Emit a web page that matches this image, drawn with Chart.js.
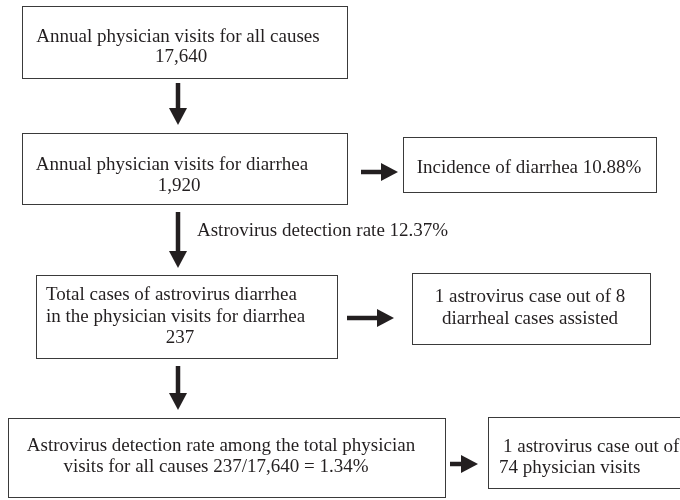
<!DOCTYPE html>
<html>
<head>
<meta charset="utf-8">
<script src="https://cdn.jsdelivr.net/npm/chart.js@4/dist/chart.umd.min.js"></script>
<style>
html,body{margin:0;padding:0;background:#fff;}
#c{display:block;}
</style>
</head>
<body>
<canvas id="c" width="680" height="500"></canvas>
<script>
// ---- data ----
const countLabels = ['Annual physician visits for all causes', 'Annual physician visits for diarrhea', 'Total cases of astrovirus diarrhea', 'in the physician visits for diarrhea'];
const counts = [17640, 1920, 237];
const rateLabels = ['Incidence of diarrhea', 'Astrovirus detection rate', 'Astrovirus detection rate among the total physician', 'visits for all causes'];
const rates = [10.88, 12.37, 1.34];
const oneOutOf = [8, 74];
const oneOutOfLabels = ['1 astrovirus case out of', 'diarrheal cases assisted', 'physician visits'];

const fmt = n => n.toLocaleString('en-US');
const pct = v => v.toFixed(2) + '%';

// ---- layout (chart units, x: 0-680, y: 0-500 top-down) ----
const boxes = [
  {x0:22, x1:347, y0:6, y1:78},
  {x0:22, x1:347, y0:133, y1:204},
  {x0:403, x1:656, y0:137, y1:192},
  {x0:36, x1:337, y0:275, y1:358},
  {x0:412, x1:650, y0:273, y1:344},
  {x0:8, x1:445, y0:418, y1:497},
  {x0:488, x1:690, y0:417, y1:488}
];
const texts = [
  {t: countLabels[0], x:178, y:37, a:'center'},
  {t: fmt(counts[0]), x:181, y:57, a:'center'},
  {t: countLabels[1], x:172, y:165, a:'center'},
  {t: fmt(counts[1]), x:179, y:186, a:'center'},
  {t: rateLabels[0] + ' ' + pct(rates[0]), x:529, y:168, a:'center'},
  {t: rateLabels[1] + ' ' + pct(rates[1]), x:197, y:231, a:'left'},
  {t: countLabels[2], x:46, y:295, a:'left'},
  {t: countLabels[3], x:46, y:317, a:'left'},
  {t: fmt(counts[2]), x:180, y:338, a:'center'},
  {t: oneOutOfLabels[0] + ' ' + oneOutOf[0], x:530, y:297, a:'center'},
  {t: oneOutOfLabels[1], x:530, y:319, a:'center'},
  {t: rateLabels[2], x:221, y:446, a:'center'},
  {t: rateLabels[3] + ' ' + counts[2] + '/' + fmt(counts[0]) + ' = ' + pct(rates[2]), x:216, y:467, a:'center'},
  {t: oneOutOfLabels[0], x:503, y:447, a:'left'},
  {t: oneOutOf[1] + ' ' + oneOutOfLabels[2], x:499, y:468, a:'left'}
];
const arrows = [
  {x0:178, y0:83, x1:178, y1:125},
  {x0:361, y0:172, x1:398, y1:172},
  {x0:178, y0:212, x1:178, y1:268},
  {x0:347, y0:318, x1:394, y1:318},
  {x0:178, y0:366, x1:178, y1:410},
  {x0:450, y0:464, x1:478, y1:464}
];

const ink = '#231f20';

const flowPlugin = {
  id: 'flow',
  afterDraw(chart) {
    const ctx = chart.ctx, xs = chart.scales.x, ys = chart.scales.y;
    const px = v => xs.getPixelForValue(v), py = v => ys.getPixelForValue(v);
    ctx.save();
    // boxes
    ctx.strokeStyle = '#3a3a3a';
    ctx.lineWidth = 1;
    boxes.forEach(b => {
      const x0 = Math.round(px(b.x0)) + 0.5, x1 = Math.round(px(b.x1)) + 0.5;
      const y0 = Math.round(py(b.y0)) + 0.5, y1 = Math.round(py(b.y1)) + 0.5;
      ctx.strokeRect(x0, y0, x1 - x0, y1 - y0);
    });
    // arrows
    ctx.fillStyle = ink;
    ctx.strokeStyle = ink;
    arrows.forEach(a => {
      const x0 = px(a.x0), y0 = py(a.y0), x1 = px(a.x1), y1 = py(a.y1);
      const dx = x1 - x0, dy = y1 - y0, len = Math.hypot(dx, dy);
      const ux = dx / len, uy = dy / len, nx = -uy, ny = ux;
      const hl = 17, hw = 9;
      const bx = x1 - ux * hl, by = y1 - uy * hl;
      ctx.lineWidth = 4.5;
      ctx.beginPath();
      ctx.moveTo(x0, y0);
      ctx.lineTo(bx + ux, by + uy);
      ctx.stroke();
      ctx.beginPath();
      ctx.moveTo(x1, y1);
      ctx.lineTo(bx + nx * hw, by + ny * hw);
      ctx.lineTo(bx - nx * hw, by - ny * hw);
      ctx.closePath();
      ctx.fill();
    });
    // texts
    ctx.font = '19px "Liberation Serif", "Times New Roman", serif';
    ctx.textBaseline = 'middle';
    texts.forEach(t => {
      ctx.textAlign = t.a;
      ctx.fillText(t.t, px(t.x), py(t.y));
    });
    ctx.restore();
  }
};

new Chart(document.getElementById('c'), {
  type: 'scatter',
  data: { datasets: [{ data: [], pointRadius: 0 }] },
  options: {
    responsive: false,
    animation: false,
    devicePixelRatio: 1,
    layout: { padding: 0 },
    plugins: { legend: { display: false }, tooltip: { enabled: false } },
    scales: {
      x: { type: 'linear', min: 0, max: 680, display: false },
      y: { type: 'linear', min: 0, max: 500, reverse: true, display: false }
    }
  },
  plugins: [flowPlugin]
});
</script>
</body>
</html>
